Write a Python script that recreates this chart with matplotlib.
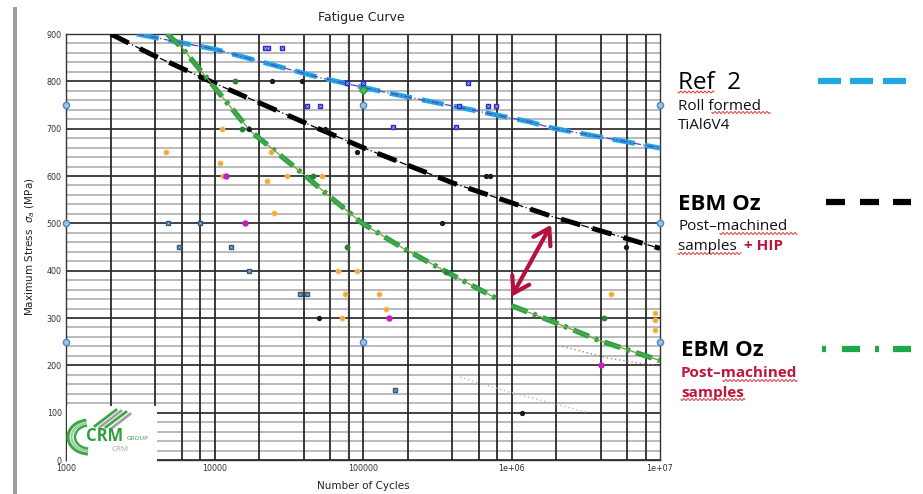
import numpy as np
import matplotlib
matplotlib.use('Agg')
import matplotlib.pyplot as plt
from matplotlib.patches import Rectangle, Arc
from matplotlib.lines import Line2D

W, H = 923, 494

# ---------------- data ----------------
x_ticks = [1e3, 1e4, 1e5, 1e6, 1e7]
x_tick_labels = ['1000', '10000', '100000', '1e+06', '1e+07']
y_ticks = [0, 100, 200, 300, 400, 500, 600, 700, 800, 900]

ref2_cycles = [3.0e3, 1.0e4, 5.1e4, 1.5e5, 4.3e5, 1.3e6, 1.9e6, 1.0e7]
ref2_stress = [900, 868, 808, 775, 746, 715, 701, 659]

hip_cycles = [2.0e3, 3.7e3, 1.0e4, 5.1e4, 1.0e5, 4.05e5, 1.9e6, 1.0e7]
hip_stress = [900, 858, 796, 699, 660, 585, 514, 447]

mach_cycles_a = [4.8e3, 6.0e3, 9.6e3, 1.73e4, 3.96e4, 6.0e4, 9.8e4, 1.87e5, 3.62e5, 7.84e5]
mach_stress_a = [900, 872, 794, 696, 604, 556, 501, 447, 398, 342]
mach_cycles_b = [1.0e6, 1.91e6, 3.86e6, 1.0e7]
mach_stress_b = [326, 292, 253, 210]

blue_sq_cycles = [2.19e4, 2.29e4, 2.85e4, 4.2e4, 5.13e4, 7.76e4, 1.0e5, 1.59e5, 4.21e5, 4.44e5, 5.07e5, 6.92e5, 7.87e5]
blue_sq_stress = [870, 870, 870, 748, 748, 796, 796, 704, 704, 748, 796, 748, 748]

steel_sq_cycles = [4.9e3, 5.8e3, 8.0e3, 1.29e4, 1.71e4, 3.77e4, 4.22e4, 1.64e5]
steel_sq_stress = [500, 449, 500, 449, 400, 351, 351, 148]

black_cycles = [2.43e4, 3.86e4, 1.71e4, 5.55e4, 9.08e4, 6.7e5, 7.16e5, 3.42e5, 5.9e6, 5.06e4, 1.17e6]
black_stress = [800, 800, 700, 700, 650, 600, 600, 500, 450, 300, 100]

green_cycles = [1.37e4, 1.54e4, 4.58e4, 7.76e4, 3.62e5, 4.2e6]
green_stress = [800, 700, 600, 450, 398, 300]
bright_green_cycles = [1.0e5]
bright_green_stress = [782]

orange_cycles = [4.69e3, 1.09e4, 1.14e4, 1.12e4, 2.39e4, 2.27e4, 3.06e4, 2.53e4, 5.27e4,
                 6.82e4, 9.06e4, 7.57e4, 1.29e5, 1.42e5, 7.26e4, 4.65e6, 9.25e6, 9.25e6, 9.25e6]
orange_stress = [650, 627, 600, 700, 650, 589, 600, 521, 600,
                 400, 400, 350, 350, 318, 300, 350, 310, 295, 275]

magenta_cycles = [1.19e4, 1.6e4, 1.5e5, 4.0e6]
magenta_stress = [600, 500, 300, 200]

ref_mark_cycles = [1e3, 1e3, 1e3, 1e5, 1e5, 1e7, 1e7, 1e7]
ref_mark_stress = [750, 500, 250, 750, 250, 750, 500, 250]

faint_brown_cycles = [2.2e6, 4.5e6, 1.0e7]
faint_brown_stress = [240, 215, 198]
faint_gray_cycles = [4.5e5, 1.0e6, 1.9e6, 3.2e6]
faint_gray_stress = [175, 142, 120, 101]

arrow_start = (1.0e6, 345)
arrow_end = (1.85e6, 497)

vgrid_mult = [1, 2, 4, 6, 8]
vgrid_decades = [1e3, 1e4, 1e5, 1e6]

# ---------------- figure ----------------
plt.rcParams['font.family'] = ['DejaVu Sans']
fig = plt.figure(figsize=(W / 100, H / 100), dpi=100)
fig.patch.set_facecolor('white')


def fx(x):
    return x / W


def fy(y):
    return 1 - y / H


ax = fig.add_axes([fx(66), fy(460), (660 - 66) / W, (460 - 34) / H])
ax.set_xscale('log')
ax.set_xlim(1e3, 1e7)
ax.set_ylim(0, 900)

# grid: minor horizontal
for s in range(0, 901, 20):
    if s % 100:
        ax.axhline(s, color='#b4b4b4', lw=1.3, zorder=0.5)
for s in y_ticks:
    ax.axhline(s, color='#222222', lw=1.2, zorder=0.6)
for d in vgrid_decades:
    for m in vgrid_mult:
        ax.axvline(d * m, color='#2a2a2a', lw=1.3, zorder=0.6)
ax.axvline(7.76e4, color='#cccccc', lw=0.8, ls=':', zorder=0.55)

ax.set_xticks(x_ticks)
ax.set_xticklabels(x_tick_labels)
ax.set_yticks(y_ticks)
ax.minorticks_off()
ax.tick_params(length=0, labelsize=5.8, pad=3, colors='#333333')
for sp in ax.spines.values():
    sp.set_color('#333333')
    sp.set_linewidth(1.0)

# faint dotted remnants
ax.plot(faint_brown_cycles, faint_brown_stress, ls=(0, (1, 2)), color='#b08a60', lw=1.0, zorder=1)
ax.plot(faint_gray_cycles, faint_gray_stress, ls=(0, (1, 2)), color='#bbbbbb', lw=1.0, zorder=1)

# curves
ax.plot(ref2_cycles, ref2_stress, color='#22a8e0', lw=3.6, ls=(0, (4.5, 2)), zorder=3,
        dash_capstyle='butt')
ax.plot(ref2_cycles, ref2_stress, color='#5a3fc8', lw=0.9, ls=(0, (6, 2, 1, 2)), zorder=3.1)

ax.plot(hip_cycles, hip_stress, color='#000000', lw=3.6, ls=(0, (4, 2.5)), zorder=3,
        dash_capstyle='butt')
ax.plot(hip_cycles, hip_stress, color='#000000', lw=0.9, ls=(0, (6, 2, 1, 2)), zorder=3.1)

for cx, cy in ((mach_cycles_a, mach_stress_a), (mach_cycles_b, mach_stress_b)):
    ax.plot(cx, cy, color='#1fa84a', lw=3.8, ls=(0, (3.2, 1.2, 0.7, 1.2)), zorder=3,
            dash_capstyle='butt')
    ax.plot(cx, cy, color='#7f9a3a', lw=0.9, zorder=3.1)

# scatter markers
ax.plot(blue_sq_cycles, blue_sq_stress, ls='none', marker='s', ms=3.0, mfc='#2b2bd6',
        mec='#2b2bd6', zorder=4, clip_on=False)
ax.plot(blue_sq_cycles, blue_sq_stress, ls='none', marker='x', ms=1.6, mec='#c8c8ff',
        mew=0.5, zorder=4.1, clip_on=False)
ax.plot(steel_sq_cycles, steel_sq_stress, ls='none', marker='s', ms=3.0, mfc='#2f5a86',
        mec='#2f5a86', zorder=4)
ax.plot(steel_sq_cycles, steel_sq_stress, ls='none', marker='x', ms=1.6, mec='#b8c8dc',
        mew=0.5, zorder=4.1)
ax.plot(black_cycles, black_stress, ls='none', marker='o', ms=2.8, mfc='#1a1a1a',
        mec='#1a1a1a', zorder=4)
ax.plot(green_cycles, green_stress, ls='none', marker='o', ms=3.2, mfc='#2f7d3a',
        mec='#2f7d3a', zorder=4)
ax.plot(bright_green_cycles, bright_green_stress, ls='none', marker='D', ms=3.8,
        mfc='#3cc84a', mec='#2a9a3a', zorder=4)
ax.plot(orange_cycles, orange_stress, ls='none', marker='o', ms=3.2, mfc='#f5a623',
        mec='#f0b860', zorder=4, clip_on=False)
ax.plot(magenta_cycles, magenta_stress, ls='none', marker='o', ms=3.6, mfc='#c21fc2',
        mec='#c21fc2', zorder=4)
ax.plot(ref_mark_cycles, ref_mark_stress, ls='none', marker='o', ms=4.5, mfc='#9cc3ea',
        mec='#4a86c8', mew=1.0, zorder=4.2, clip_on=False)

# double arrow
ax.annotate('', xy=arrow_end, xytext=arrow_start,
            arrowprops=dict(arrowstyle='<->,head_length=0.55,head_width=0.35',
                            color='#b3123f', lw=3.0, mutation_scale=20,
                            shrinkA=0, shrinkB=0), zorder=5)

# titles / labels
fig.text(fx(361), fy(18), 'Fatigue Curve', ha='center', va='center', fontsize=9, color='#222222')
fig.text(fx(363), fy(486), 'Number of Cycles', ha='center', va='center', fontsize=7.5, color='#222222')
fig.text(fx(30), fy(247), r'Maximum Stress  $\sigma_a$ (MPa)', ha='center', va='center',
         rotation=90, fontsize=7.5, color='#222222')

# left gray bar
fig.add_artist(Rectangle((fx(13), 0), 4 / W, fy(7), transform=fig.transFigure,
                         facecolor='#9c9ca8', edgecolor='none'))

# ---------------- logo ----------------
fig.add_artist(Rectangle((fx(67), fy(462)), 90 / W, 56 / H, transform=fig.transFigure,
                         facecolor='white', edgecolor='none', zorder=6))
for (rx, ry, col, lw) in ((21, 17, '#3aa845', 2.2), (17.5, 14, '#9ec89e', 1.6), (14, 11.5, '#3aa845', 1.8)):
    fig.add_artist(Arc((fx(89), fy(437)), 2 * rx / W, 2 * ry / H, theta1=95, theta2=268,
                       transform=fig.transFigure, color=col, lw=lw, zorder=7))
for (x0, y0, x1, y1, col) in ((95, 426, 116, 410, '#3aa845'), (100, 427, 121, 411, '#a0a0a0'),
                              (106, 427, 126, 412, '#3aa845'), (112, 428, 130, 414, '#a0a0a0')):
    fig.add_artist(Line2D([fx(x0), fx(x1)], [fy(y0), fy(y1)], transform=fig.transFigure,
                          color=col, lw=2.0, zorder=7))
fig.text(fx(86), fy(441), 'CRM', fontsize=12, color='#2e9e3e', family='Open Sans',
         weight='bold', ha='left', va='baseline', zorder=8)
fig.text(fx(127), fy(440), 'GROUP', fontsize=4.6, color='#2e9e3e', family='Open Sans',
         ha='left', va='baseline', zorder=8)
fig.text(fx(111), fy(451), 'CRM', fontsize=5.8, color='#a8a8a8', family='Open Sans',
         ha='left', va='baseline', zorder=8)

# ---------------- right legend area ----------------
LF = 'Open Sans'
crimson = '#c0143c'


def squiggle(x0, x1, y):
    xs = np.linspace(x0, x1, int((x1 - x0) * 1.5))
    ys = y + 1.0 * np.sin((xs - x0) * 2 * np.pi / 4.0)
    fig.add_artist(Line2D(fx(xs), fy(ys), transform=fig.transFigure, color='#e03030', lw=0.7))


def dashes(segs, y, col, lw):
    for a, b in segs:
        fig.add_artist(Line2D([fx(a), fx(b)], [fy(y), fy(y)], transform=fig.transFigure,
                              color=col, lw=lw, solid_capstyle='butt'))


fig.text(fx(678), fy(89), 'Ref  2', fontsize=17.5, family=LF, color='black', va='baseline')
fig.text(fx(678), fy(110), 'Roll formed', fontsize=11, family=LF, color='#111111', va='baseline')
fig.text(fx(678), fy(129), 'TiAl6V4', fontsize=11, family=LF, color='#111111', va='baseline')
squiggle(678, 714, 92)
squiggle(712, 770, 112.5)
dashes([(818, 841), (850, 873), (883, 906)], 81.5, '#1fa8e4', 4.5)

fig.text(fx(678), fy(209.5), 'EBM Oz', fontsize=16, family=LF, weight='bold', color='black', va='baseline')
fig.text(fx(678), fy(229.5), 'Post\u2013machined', fontsize=11, family=LF, color='#111111', va='baseline')
fig.text(fx(678), fy(249.5), 'samples ', fontsize=11, family=LF, color='#111111', va='baseline')
fig.text(fx(744), fy(249.5), '+ HIP', fontsize=11, family=LF, color=crimson, weight='bold', va='baseline')
squiggle(720, 797, 233.5)
squiggle(678, 741, 253.5)
dashes([(826, 845), (860, 879), (893, 911)], 202.5, '#000000', 4.5)

fig.text(fx(681), fy(356), 'EBM Oz', fontsize=16, family=LF, weight='bold', color='black', va='baseline')
fig.text(fx(681), fy(377), 'Post\u2013machined', fontsize=11, family=LF, color=crimson, weight='bold', va='baseline')
fig.text(fx(681), fy(397), 'samples', fontsize=11, family=LF, color=crimson, weight='bold', va='baseline')
squiggle(723, 797, 380.5)
squiggle(681, 745, 399.5)
dashes([(822, 826), (842, 860), (875, 879), (893, 911)], 349, '#1fa84a', 4.5)

fig.savefig('out.png', dpi=100, facecolor='white')
